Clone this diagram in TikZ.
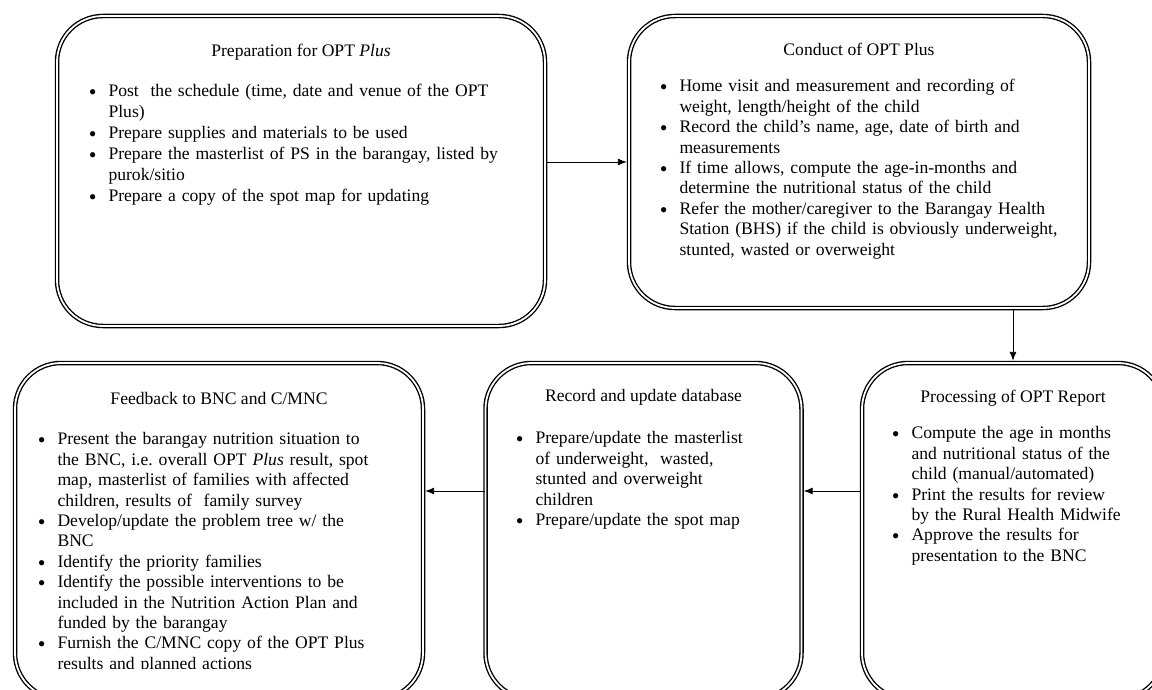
\documentclass[tikz,border=0pt]{standalone}
\usepackage{fontspec}
\setmainfont{Liberation Serif}
\usetikzlibrary{arrows.meta}
\usetikzlibrary{positioning}
\tikzset{>=latex}
\newcommand{\stagefont}{\fontsize{17.6}{20.4}\selectfont}
\newcommand{\widefont}{\fontsize{17.6}{21}\selectfont}
\newcommand{\dotmark}{\raisebox{-3pt}[0pt][0pt]{\fontsize{22}{20}\selectfont\textbullet}}
\newenvironment{steps}{\begin{list}{\dotmark}{\setlength{\leftmargin}{20pt}\setlength{\labelwidth}{8pt}\setlength{\labelsep}{12pt}\setlength{\itemsep}{0pt}\setlength{\parsep}{0pt}\setlength{\topsep}{0pt}\setlength{\partopsep}{0pt}\setlength{\listparindent}{0pt}}}{\end{list}}
\tikzstyle{stage} = [draw, rounded corners=46pt, double, double distance=1.8pt, line width=1.35pt, inner sep=0pt]
\tikzstyle{stagetitle} = [inner sep=0pt, anchor=north, font=\stagefont]
\tikzstyle{stagetext} = [inner sep=0pt, anchor=north west, align=left, font=\stagefont]
\tikzstyle{flow} = [-{Latex[length=9pt, width=7pt]}, line width=0.9pt, shorten >=1.5pt]

\begin{document}
\begin{tikzpicture}[x=1pt, y=-1pt]
\useasboundingbox (0,0) rectangle (1152,690);
\clip (0,0) rectangle (1152,690);
% the five stages
\node [stage, minimum width=488pt, minimum height=310pt] (prep) at (301,171) {};
\node [stage, minimum width=460pt, minimum height=292pt] (conduct) at (859,162) {};
\node [stage, minimum width=302pt, minimum height=336pt] (proc) at (1013,531) {};
\node [stage, minimum width=316pt, minimum height=336pt] (record) at (643.5,531) {};
\node [stage, minimum width=408pt, minimum height=336pt] (feedback) at (219,531) {};
% titles
\node [stagetitle, below=29pt of prep.north] (prep-title) {Preparation for OPT \textit{Plus}};
\node [stagetitle, below=28pt of conduct.north] (conduct-title) {Conduct of OPT Plus};
\node [stagetitle, below=28pt of proc.north] (proc-title) {Processing of OPT Report};
\node [stagetitle, below=27pt of record.north] (record-title) {Record and update database};
\node [stagetitle, below=30pt of feedback.north] (feedback-title) {Feedback to BNC and C/MNC};
% lists
\node [stagetext, font=\widefont, text width=440pt, below right=60pt and 32pt of prep.north west] (prep-text) {%
\begin{steps}
\item Post\ \ the schedule (time, date and venue of the OPT\\Plus)
\item Prepare supplies and materials to be used
\item Prepare the masterlist of PS in the barangay, listed by\\purok/sitio
\item Prepare a copy of the spot map for updating
\end{steps}};
\node [stagetext, text width=420pt, below right=56pt and 31pt of conduct.north west] (conduct-text) {%
\begin{steps}
\item Home visit and measurement and recording of\\weight, length/height of the child
\item Record the child’s name, age, date of birth and\\measurements
\item If time allows, compute the age-in-months and\\determine the nutritional status of the child
\item Refer the mother/caregiver to the Barangay Health\\Station (BHS) if the child is obviously underweight,\\stunted, wasted or overweight
\end{steps}};
\node [stagetext, text width=270pt, below right=56pt and 30pt of proc.north west] (proc-text) {%
\begin{steps}
\item Compute the age in months\\and nutritional status of the\\child (manual/automated)
\item Print the results for review\\by the Rural Health Midwife
\item Approve the results for\\presentation to the BNC
\end{steps}};
\node [stagetext, text width=280pt, below right=61pt and 30.5pt of record.north west] (record-text) {%
\begin{steps}
\item Prepare/update the masterlist\\of underweight,\ \ wasted,\\stunted and overweight\\children
\item Prepare/update the spot map
\end{steps}};
\coordinate (cutoff) at (0,668);
\begin{scope}
\clip (feedback.north west) rectangle (feedback.east |- cutoff);
\node [stagetext, text width=380pt, below right=62pt and 23pt of feedback.north west] (feedback-text) {%
\begin{steps}
\item Present the barangay nutrition situation to\\the BNC, i.e.\ overall OPT \textit{Plus} result, spot\\map, masterlist of families with affected\\children, results of\ \ family survey
\item Develop/update the problem tree w/ the\\BNC
\item Identify the priority families
\item Identify the possible interventions to be\\included in the Nutrition Action Plan and\\funded by the barangay
\item Furnish the C/MNC copy of the OPT Plus\\results and planned actions
\end{steps}};
\end{scope}
% connectors
\coordinate (lowrow) at (0,491);
\draw [flow] (prep.east |- conduct.west) -- (conduct.west);
\draw [flow] (conduct.south -| proc.north) -- (proc.north);
\draw [flow] (proc.west |- lowrow) -- (record.east |- lowrow);
\draw [flow] (record.west |- lowrow) -- (feedback.east |- lowrow);
\end{tikzpicture}
\end{document}
